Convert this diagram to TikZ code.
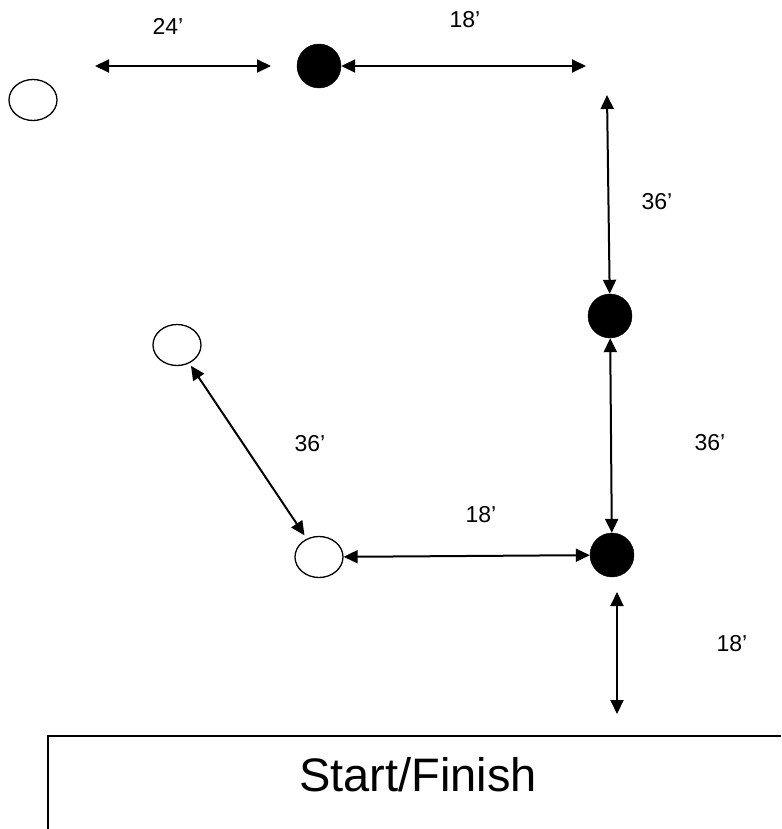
\documentclass[tikz,border=0pt]{standalone}
\usepackage{fontspec}
\setmainfont{Liberation Sans}
\usetikzlibrary{arrows.meta,shapes.geometric}
\begin{document}
\begin{tikzpicture}[x=1pt,y=-1pt,
  opencone/.style={ellipse,draw,line width=1.3pt,minimum width=48pt,minimum height=41pt,inner sep=0pt},
  filledcone/.style={circle,fill=black,draw=black,minimum size=44pt,inner sep=0pt},
  dim/.style={line width=2pt,{Triangle[length=14pt,width=13pt]}-{Triangle[length=14pt,width=13pt]}},
  lbl/.style={font=\fontsize{23}{25}\selectfont,inner sep=0pt},
  boxline/.style={line width=1.4pt}]
\useasboundingbox (0,0) rectangle (781,829);
% cones
\node[opencone] (A) at (33,100) {};
\node[filledcone] (B) at (319,66) {};
\node[filledcone] (C) at (610,316) {};
\node[filledcone] (D) at (612,555) {};
\node[opencone] (E) at (319,557) {};
\node[opencone] (F) at (177,345) {};
% free ends
\coordinate (a1) at (95,66);
\coordinate (a2) at (271,66);
\coordinate (b2) at (586,66);
\coordinate (c1) at (607,95);
\coordinate (g1) at (617,592);
\coordinate (g2) at (617,714);
% connectors
\draw[dim] (a1) -- (a2);
\draw[dim] (B) -- (b2);
\draw[dim] (c1) -- (C);
\draw[dim] (C) -- (D);
\draw[dim] (E) -- (D);
\draw[dim,shorten <=3pt,shorten >=4pt] (F) -- (E);
\draw[dim] (g1) -- (g2);
% labels
\node[lbl] (l1) at (168,26) {24’};
\node[lbl] (l2) at (465,20) {18’};
\node[lbl] (l3) at (657,202) {36’};
\node[lbl] (l4) at (710,443) {36’};
\node[lbl] (l5) at (310,444) {36’};
\node[lbl] (l6) at (481,515) {18’};
\node[lbl] (l7) at (732,644) {18’};
% start/finish
\draw[boxline] (781,736) -- (48,736) -- (48,829);
\node[font=\fontsize{47}{50}\selectfont,inner sep=0pt,anchor=base] (sf) at (418,791) {Start/Finish};
\end{tikzpicture}
\end{document}
